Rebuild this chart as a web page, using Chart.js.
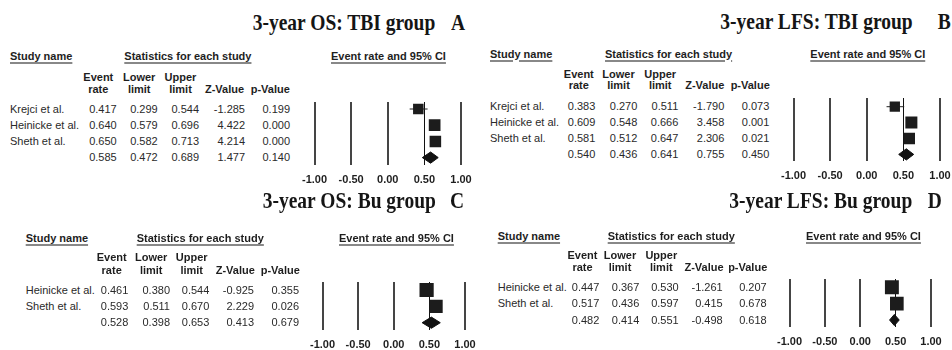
<!DOCTYPE html>
<html>
<head>
<meta charset="utf-8">
<script src="https://cdn.jsdelivr.net/npm/chart.js@4.4.1/dist/chart.umd.min.js"></script>
<style>
    body { margin: 0; background: #fff; }
    #page { position: relative; width: 952px; height: 350px; overflow: hidden; font-family: "Liberation Sans", Arial, sans-serif; color: #2a2a2a; }
    .t { position: absolute; white-space: nowrap; font-size: 11px; line-height: 13px; }
    .b { font-weight: bold; color: #1e1e1e; }
    .u { text-decoration: underline; text-decoration-color: #888; text-underline-offset: 2px; text-decoration-thickness: 1.5px; }
    .title { position: absolute; white-space: nowrap; font-family: "Liberation Serif", "Times New Roman", serif; font-weight: bold; font-size: 19.5px; line-height: 20px; color: #151515; transform-origin: 0 16.6px; transform: scaleY(1.18); }
    canvas { position: absolute; }
</style>
</head>
<body>
<div id="page"></div>
<script>
// ---- datos (la última fila de cada columna es el resultado combinado) ----
const tickValues = [-1, -0.5, 0, 0.5, 1];

const titleA = '3-year OS: TBI group';
const studiesA = ['Krejci et al.', 'Heinicke et al.', 'Sheth et al.', ''];
const rateA = [0.417, 0.640, 0.650, 0.585];
const lowerA = [0.299, 0.579, 0.582, 0.472];
const upperA = [0.544, 0.696, 0.713, 0.689];
const zA = [-1.285, 4.422, 4.214, 1.477];
const pA = [0.199, 0.000, 0.000, 0.140];
const weightA = [29, 36, 35];

const titleB = '3-year LFS: TBI group';
const studiesB = ['Krejci et al.', 'Heinicke et al.', 'Sheth et al.', ''];
const rateB = [0.383, 0.609, 0.581, 0.540];
const lowerB = [0.270, 0.548, 0.512, 0.436];
const upperB = [0.511, 0.666, 0.647, 0.641];
const zB = [-1.790, 3.458, 2.306, 0.755];
const pB = [0.073, 0.001, 0.021, 0.450];
const weightB = [28, 38, 34];

const titleC = '3-year OS: Bu group';
const studiesC = ['Heinicke et al.', 'Sheth et al.', ''];
const rateC = [0.461, 0.593, 0.528];
const lowerC = [0.380, 0.511, 0.398];
const upperC = [0.544, 0.670, 0.653];
const zC = [-0.925, 2.229, 0.413];
const pC = [0.355, 0.026, 0.679];
const weightC = [53, 47];

const titleD = '3-year LFS: Bu group';
const studiesD = ['Heinicke et al.', 'Sheth et al.', ''];
const rateD = [0.447, 0.517, 0.482];
const lowerD = [0.367, 0.436, 0.414];
const upperD = [0.530, 0.597, 0.551];
const zD = [-1.261, 0.415, -0.498];
const pD = [0.207, 0.678, 0.618];
const weightD = [51, 49];

// ---- posiciones de cada panel (px) ----
const layouts = {
    A: { title: [252.7, 31], letter: 451, name: [10, 56.7], stats: 124.3, ci: 331, hdr: [77.3, 89],
         hdrC: [98.3, 139.2, 180.5, 224.5, 270.3], colR: [116.7, 157.7, 199, 245, 290],
         row0: 109, step: 16.2, plot: [314, 461, 102, 165] },
    B: { title: [720.3, 30], letter: 937.7, name: [490, 54], stats: 605, ci: 810.3, hdr: [74, 85.7],
         hdrC: [578.8, 618.5, 660.2, 704.8, 750.2], colR: [595.3, 637.3, 678.3, 724.3, 769.3],
         row0: 106.7, step: 15.9, plot: [793, 940, 98, 161] },
    C: { title: [262.7, 209], letter: 450, name: [25.7, 238.3], stats: 136.7, ci: 339, hdr: [257.3, 270],
         hdrC: [111.7, 151.2, 191.7, 235.3, 280.3], colR: [128.3, 170, 209.3, 254, 299],
         row0: 290, step: 16.35, plot: [322, 465, 282, 330] },
    D: { title: [729.3, 208.3], letter: 927.7, name: [497.7, 236.7], stats: 607.7, ci: 806, hdr: [255.7, 267.7],
         hdrC: [582.5, 620, 661.3, 704, 747.7], colR: [599.3, 639.3, 678.7, 722.7, 766.7],
         row0: 287.3, step: 16.35, plot: [789, 931, 279, 327] }
};

const page = document.getElementById('page');
const fontFamily = "'Liberation Sans', Arial, sans-serif";

function put(txt, x, y, align, cls) {
    const d = document.createElement('div');
    d.className = 't ' + (cls || '');
    d.textContent = txt;
    d.style.left = x + 'px';
    d.style.top = (y - 6.5) + 'px';
    if (align === 'right') d.style.transform = 'translateX(-100%)';
    if (align === 'center') d.style.transform = 'translateX(-50%)';
    page.appendChild(d);
}

function putTitle(txt, x, baseline) {
    const d = document.createElement('div');
    d.className = 'title';
    d.textContent = txt;
    d.style.left = x + 'px';
    d.style.top = (baseline - 16.6) + 'px';
    page.appendChild(d);
}

function drawPanel(letter, title, names, rate, lower, upper, z, p, weight) {
    const L = layouts[letter];

    // titulo y letra
    putTitle(title, L.title[0], L.title[1]);
    putTitle(letter, L.letter, L.title[1]);

    // encabezados
    put('Study name', L.name[0], L.name[1], 'left', 'b u');
    put('Statistics for each study', L.stats, L.name[1], 'left', 'b u');
    put('Event rate and 95% CI', L.ci, L.name[1], 'left', 'b u');
    put('Event', L.hdrC[0], L.hdr[0], 'center', 'b');
    put('rate', L.hdrC[0], L.hdr[1], 'center', 'b');
    put('Lower', L.hdrC[1], L.hdr[0], 'center', 'b');
    put('limit', L.hdrC[1], L.hdr[1], 'center', 'b');
    put('Upper', L.hdrC[2], L.hdr[0], 'center', 'b');
    put('limit', L.hdrC[2], L.hdr[1], 'center', 'b');
    put('Z-Value', L.hdrC[3], L.hdr[1], 'center', 'b');
    put('p-Value', L.hdrC[4], L.hdr[1], 'center', 'b');

    // filas de la tabla
    names.forEach((nm, i) => {
        const y = L.row0 + i * L.step;
        if (nm) put(nm, L.name[0], y, 'left');
        [rate, lower, upper, z, p].forEach((col, c) => {
            put(col[i].toFixed(3), L.colR[c], y, 'right');
        });
    });

    // grafico (forest plot)
    const padX = 20, axH = 30;
    const [xl, xr, yt, yb] = L.plot;
    const cv = document.createElement('canvas');
    cv.width = (xr - xl) + 2 * padX;
    cv.height = (yb - yt) + axH;
    cv.style.left = (xl - padX) + 'px';
    cv.style.top = yt + 'px';
    page.appendChild(cv);

    const yMin = -(L.row0 - yt) / L.step;
    const yMax = yMin + (yb - yt) / L.step;
    const nStudies = names.length - 1;
    const last = names.length - 1;
    const halfH = 5.6 / L.step;

    const datasets = [];
    // cuadros
    datasets.push({
        data: weight.map((w, i) => ({ x: rate[i], y: i })),
        pointStyle: 'rect',
        pointRadius: ctx => 1.95 * Math.sqrt(weight[ctx.dataIndex]) / Math.SQRT2,
        backgroundColor: '#1c1c1c',
        borderWidth: 0,
        order: 0
    });
    // rombo del resultado combinado
    datasets.push({
        showLine: true,
        data: [
            { x: lower[last], y: last },
            { x: rate[last], y: last - halfH },
            { x: upper[last], y: last },
            { x: rate[last], y: last + halfH },
            { x: lower[last], y: last }
        ],
        fill: 'shape',
        backgroundColor: '#111',
        borderColor: '#111',
        borderWidth: 1,
        pointRadius: 0,
        order: 1
    });
    // intervalos de confianza
    for (let i = 0; i < nStudies; i++) {
        datasets.push({
            showLine: true,
            data: [{ x: lower[i], y: i }, { x: upper[i], y: i }],
            borderColor: '#222',
            borderWidth: 1,
            pointRadius: 0,
            order: 2
        });
    }

    new Chart(cv, {
        type: 'scatter',
        data: { datasets },
        options: {
            responsive: false,
            animation: false,
            events: [],
            layout: { autoPadding: false, padding: { left: padX, right: padX, top: 0, bottom: 0 } },
            plugins: { legend: { display: false }, tooltip: { enabled: false } },
            scales: {
                x: {
                    type: 'linear',
                    min: -1,
                    max: 1,
                    afterBuildTicks: s => { s.ticks = tickValues.map(v => ({ value: v })); },
                    afterFit: s => { s.height = axH; },
                    border: { display: false },
                    grid: {
                        drawTicks: false,
                        color: c => (c.tick && c.tick.value === 0.5) ? '#111' : '#454545',
                        lineWidth: c => (c.tick && c.tick.value === 0.5) ? 1 : 2
                    },
                    ticks: {
                        padding: 8,
                        autoSkip: false,
                        maxRotation: 0,
                        color: '#1e1e1e',
                        font: { family: fontFamily, size: 11, weight: 'bold' },
                        callback: v => Number(v).toFixed(2)
                    }
                },
                y: { type: 'linear', display: false, reverse: true, min: yMin, max: yMax }
            }
        }
    });
}

drawPanel('A', titleA, studiesA, rateA, lowerA, upperA, zA, pA, weightA);
drawPanel('B', titleB, studiesB, rateB, lowerB, upperB, zB, pB, weightB);
drawPanel('C', titleC, studiesC, rateC, lowerC, upperC, zC, pC, weightC);
drawPanel('D', titleD, studiesD, rateD, lowerD, upperD, zD, pD, weightD);
</script>
</body>
</html>
